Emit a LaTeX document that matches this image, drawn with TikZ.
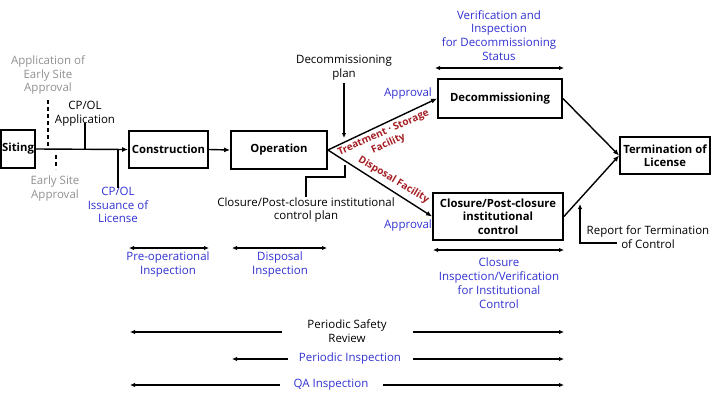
\documentclass[tikz,border=0pt]{standalone}
\usepackage{fontspec}
\setmainfont{Open Sans}
\usetikzlibrary{arrows.meta}
\definecolor{tblue}{RGB}{50,50,210}
\definecolor{tgray}{RGB}{145,145,145}
\definecolor{tred}{RGB}{165,30,35}
\begin{document}
\begin{tikzpicture}[x=1pt,y=-1pt,
  box/.style={draw,line width=1.8pt,font=\bfseries\fontsize{11.3}{13.5}\selectfont,align=center,inner sep=0pt},
  lbl/.style={font=\fontsize{11.5}{13.8}\selectfont,align=center,inner sep=0pt},
  blbl/.style={lbl,text=tblue},
  glbl/.style={lbl,text=tgray},
  rlbl/.style={font=\bfseries\fontsize{10}{12}\selectfont,align=center,inner sep=0pt,text=tred},
  conn/.style={line width=1.4pt,-{Latex[length=6pt,width=5pt]}},
  single/.style={line width=1.2pt,-{Latex[length=5pt,width=4.5pt]}},
  dbl/.style={line width=1.2pt,{Latex[length=5pt,width=4.5pt]}-{Latex[length=5pt,width=4.5pt]}},
  plain/.style={line width=1.2pt},
  dashline/.style={line width=1.2pt,dash pattern=on 4pt off 3pt}
]
\useasboundingbox[fill=white] (0,0) rectangle (712,394);

% boxes
\node[box,minimum width=34pt,minimum height=38pt] (siting) at (18,149) {Siting};
\node[box,minimum width=79pt,minimum height=37pt] (constr) at (168.5,149.5) {Construction};
\node[box,minimum width=96pt,minimum height=38pt] (oper) at (279,150) {Operation};
\node[box,minimum width=124pt,minimum height=39pt] (decom) at (500,98.5) {Decommissioning};
\node[box,minimum width=130pt,minimum height=47pt] (closure) at (498,216.5) {Closure/Post-closure\\institutional\\control};
\node[box,minimum width=90pt,minimum height=37pt] (term) at (665,155.5) {Termination of\\License};

% main flow
\draw[conn] (siting.east) -- (constr.west);
\draw[conn] (constr.east) -- (oper.west);
\draw[conn] (oper.east) -- (decom.west);
\draw[conn] (oper.east) -- (closure.west);
\draw[conn] (decom.east) -- (term.west);
\draw[conn] (closure.east) -- (term.west);

% siting annotations
\node[glbl] (appl) at (48,75) {Application of\\Early Site\\Approval};
\coordinate (d1a) at (48,100);
\coordinate (d1b) at (48,150);
\draw[dashline] (d1a) -- (d1b);
\node[glbl] (esa) at (55,188.5) {Early Site\\Approval};
\coordinate (d2a) at (56,155);
\coordinate (d2b) at (56,169);
\draw[dashline] (d2a) -- (d2b);
\node[lbl] (cpapp) at (85,114) {CP/OL\\Application};
\coordinate (ca1) at (85,123);
\coordinate (ca2) at (85,150);
\draw[plain] (ca1) -- (ca2);
\node[blbl] (cpiss) at (118,205) {CP/OL\\Issuance of\\License};
\coordinate (ci1) at (118,150);
\coordinate (ci2) at (118,188);
\draw[plain] (ci1) -- (ci2);

% plans
\node[lbl] (dplan) at (344,68) {Decommissioning\\plan};
\coordinate (dptip) at (344,138);
\coordinate (dpstart) at (344,83);
\draw[single] (dpstart) -- (dptip);
\node[lbl] (cplan) at (306,210) {Closure/Post-closure institutional\\control plan};
\coordinate (cp1) at (306,177);
\coordinate (cp2) at (345,177);
\coordinate (cp3) at (345,165);
\draw[plain] (cplan.north) -- (cp1) -- (cp2) -- (cp3);

% approvals and facility labels
\node[blbl] (app1) at (408,94) {Approval};
\node[blbl] (app2) at (408,226) {Approval};
\node[rlbl,rotate=24] (tsf) at (386,138.5) {Treatment · Storage\\Facility};
\node[rlbl,rotate=-31] (dfac) at (393.5,180) {Disposal Facility};

% verification (decommissioning)
\node[blbl] (verif) at (499,35.5) {Verification and\\Inspection\\for Decommissioning\\Status};
\coordinate (v1) at (435,68);
\coordinate (v2) at (564,68);
\draw[dbl] (v1) -- (v2);

% closure inspection
\node[blbl] (cinsp) at (499,283) {Closure\\Inspection/Verification\\for Institutional\\Control};
\coordinate (c1) at (433,250);
\coordinate (c2) at (564,250);
\draw[dbl] (c1) -- (c2);

% report
\node[lbl] (report) at (648,237) {Report for Termination\\of Control};
\coordinate (r1) at (617,243);
\coordinate (r2) at (580,243);
\coordinate (r3) at (580,204);
\draw[single] (r1) -- (r2) -- (r3);

% lower inspections
\node[blbl] (preop) at (168,264.5) {Pre-operational\\Inspection};
\coordinate (p1) at (129,248);
\coordinate (p2) at (209,248);
\draw[dbl] (p1) -- (p2);
\node[blbl] (dinsp) at (280,264.5) {Disposal\\Inspection};
\coordinate (q1) at (232,248);
\coordinate (q2) at (327,248);
\draw[dbl] (q1) -- (q2);

\node[lbl] (psr) at (347,331.5) {Periodic Safety\\Review};
\coordinate (s1) at (282,332);
\coordinate (s2) at (130,332);
\coordinate (s3) at (413,332);
\coordinate (s4) at (564,332);
\draw[single] (s1) -- (s2);
\draw[single] (s3) -- (s4);

\node[blbl] (pi) at (350,359) {Periodic Inspection};
\coordinate (t1) at (288,359);
\coordinate (t2) at (232,359);
\coordinate (t3) at (413,359);
\coordinate (t4) at (564,359);
\draw[single] (t1) -- (t2);
\draw[single] (t3) -- (t4);

\node[blbl] (qa) at (331,385) {QA Inspection};
\coordinate (u1) at (280,385);
\coordinate (u2) at (130,385);
\coordinate (u3) at (383,385);
\coordinate (u4) at (564,385);
\draw[single] (u1) -- (u2);
\draw[single] (u3) -- (u4);
\end{tikzpicture}
\end{document}
